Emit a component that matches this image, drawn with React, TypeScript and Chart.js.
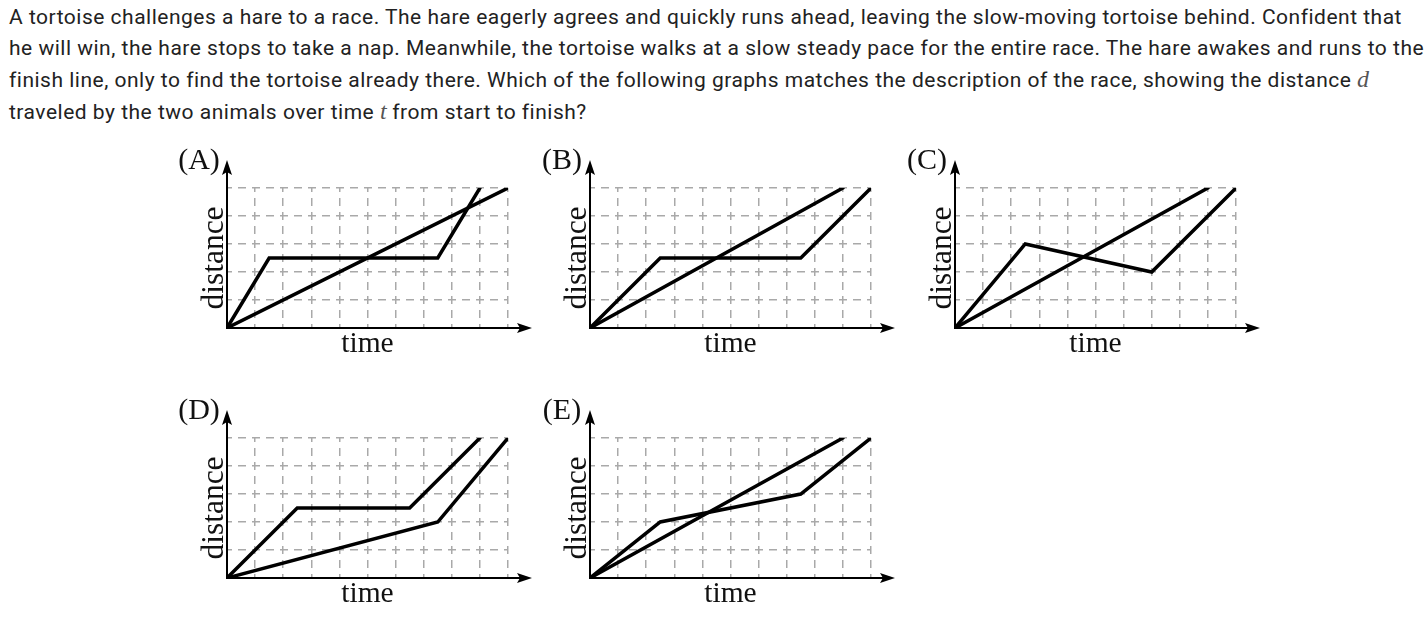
import React, { useEffect, useRef } from "react";
import { Chart, registerables } from "chart.js";

Chart.register(...registerables);

// ---------- text ----------
const questionLines = [
  "A tortoise challenges a hare to a race. The hare eagerly agrees and quickly runs ahead, leaving the slow-moving tortoise behind. Confident that",
  "he will win, the hare stops to take a nap. Meanwhile, the tortoise walks at a slow steady pace for the entire race. The hare awakes and runs to the",
  "finish line, only to find the tortoise already there. Which of the following graphs matches the description of the race, showing the distance ",
  "traveled by the two animals over time ",
];
const lineTails = ["", "", "", " from start to finish?"];
const mathVars = ["", "", "d", "t"];

// ---------- axes ----------
const xLabel = "time";
const yLabel = "distance";
const timeMax = 10;
const distMax = 5;

// ---------- data (time, distance) ----------
const panelLabels = ["(A)", "(B)", "(C)", "(D)", "(E)"];

const hareA_t = [0, 1.5, 7.5, 9];
const hareA_d = [0, 2.5, 2.5, 5];
const tortA_t = [0, 10];
const tortA_d = [0, 5];

const hareB_t = [0, 2.5, 7.5, 10];
const hareB_d = [0, 2.5, 2.5, 5];
const tortB_t = [0, 9];
const tortB_d = [0, 5];

const hareC_t = [0, 2.5, 7, 10];
const hareC_d = [0, 3, 2, 5];
const tortC_t = [0, 9];
const tortC_d = [0, 5];

const hareD_t = [0, 2.5, 6.5, 9];
const hareD_d = [0, 2.5, 2.5, 5];
const tortD_t = [0, 7.5, 10];
const tortD_d = [0, 2, 5];

const hareE_t = [0, 2.5, 7.5, 10];
const hareE_d = [0, 2, 3, 5];
const tortE_t = [0, 9];
const tortE_d = [0, 5];

const panelSeries = [
  [[hareA_t, hareA_d], [tortA_t, tortA_d]],
  [[hareB_t, hareB_d], [tortB_t, tortB_d]],
  [[hareC_t, hareC_d], [tortC_t, tortC_d]],
  [[hareD_t, hareD_d], [tortD_t, tortD_d]],
  [[hareE_t, hareE_d], [tortE_t, tortE_d]],
];

// ---------- layout (page coords of each panel's origin) ----------
const panelOrigins = [
  [227, 328],
  [590, 328],
  [955, 328],
  [227, 578],
  [590, 578],
];
const AREA_W = 281;
const AREA_H = 140;
const PAD_L = 62;
const PAD_T = 48;
const CANVAS_W = 370;
const CANVAS_H = 250;

const SERIF = "'Liberation Serif', 'Times New Roman', serif";

function toPoints(ts: number[], ds: number[]) {
  return ts.map((t, i) => ({ x: t, y: ds[i] }));
}

function makeDecor(label: string) {
  return {
    id: "decor",
    afterDraw(chart: any) {
      const { ctx, chartArea } = chart;
      const xs = chart.scales.x;
      const ys = chart.scales.y;
      const ox = xs.getPixelForValue(0);
      const oy = ys.getPixelForValue(0);
      const xTip = chartArea.right + 24;
      const yTip = chartArea.top - 28;
      ctx.save();
      ctx.strokeStyle = "#000";
      ctx.fillStyle = "#000";
      ctx.lineWidth = 2;
      // x axis extension
      ctx.beginPath();
      ctx.moveTo(chartArea.right - 1, oy);
      ctx.lineTo(xTip - 8, oy);
      ctx.stroke();
      ctx.beginPath();
      ctx.moveTo(xTip, oy);
      ctx.lineTo(xTip - 15, oy - 5);
      ctx.lineTo(xTip - 12, oy);
      ctx.lineTo(xTip - 15, oy + 5);
      ctx.closePath();
      ctx.fill();
      // y axis extension
      ctx.beginPath();
      ctx.moveTo(ox, chartArea.top + 1);
      ctx.lineTo(ox, yTip + 8);
      ctx.stroke();
      ctx.beginPath();
      ctx.moveTo(ox, yTip);
      ctx.lineTo(ox - 5, yTip + 15);
      ctx.lineTo(ox, yTip + 12);
      ctx.lineTo(ox + 5, yTip + 15);
      ctx.closePath();
      ctx.fill();

      ctx.fillStyle = "#111";
      ctx.textBaseline = "alphabetic";
      ctx.textAlign = "center";
      // panel label
      ctx.font = `30px ${SERIF}`;
      ctx.fillText(label, ox - 28, oy - 159);
      // x label
      ctx.font = `29.5px ${SERIF}`;
      ctx.fillText(xLabel, (chartArea.left + chartArea.right) / 2, oy + 24);
      // y label
      ctx.save();
      ctx.font = `31.5px ${SERIF}`;
      ctx.translate(ox - 4.5, (chartArea.top + chartArea.bottom) / 2);
      ctx.rotate(-Math.PI / 2);
      ctx.fillText(yLabel, 0, 0);
      ctx.restore();
      ctx.restore();
    },
  };
}

function Panel({ index }: { index: number }) {
  const ref = useRef<HTMLCanvasElement | null>(null);
  useEffect(() => {
    if (!ref.current) return;
    const series = panelSeries[index];
    const chart = new Chart(ref.current, {
      type: "line",
      data: {
        datasets: series.map(([ts, ds]) => ({
          data: toPoints(ts, ds),
          borderColor: "#000",
          borderWidth: 3.5,
          pointRadius: 0,
          tension: 0,
          fill: false,
          borderCapStyle: "round",
          borderJoinStyle: "miter",
        })),
      },
      options: {
        animation: false,
        responsive: false,
        devicePixelRatio: 1,
        layout: {
          padding: {
            left: PAD_L,
            top: PAD_T,
            right: CANVAS_W - PAD_L - AREA_W,
            bottom: CANVAS_H - PAD_T - AREA_H,
          },
        },
        plugins: {
          legend: { display: false },
          tooltip: { enabled: false },
          title: { display: false },
        },
        scales: {
          x: {
            type: "linear",
            min: 0,
            max: timeMax,
            ticks: { display: false, stepSize: 1 },
            grid: { color: "#a9a9a9", lineWidth: 1.5, drawTicks: false, tickLength: 0 },
            border: { display: true, color: "#000", width: 2, dash: [8, 6], dashOffset: 4 },
          },
          y: {
            type: "linear",
            min: 0,
            max: distMax,
            ticks: { display: false, stepSize: 1 },
            grid: { color: "#a9a9a9", lineWidth: 1.5, drawTicks: false, tickLength: 0 },
            border: { display: true, color: "#000", width: 2, dash: [8, 6], dashOffset: 4 },
          },
        },
      },
      plugins: [makeDecor(panelLabels[index])],
    } as any);
    return () => chart.destroy();
  }, [index]);
  const [ox, oy] = panelOrigins[index];
  return (
    <canvas
      ref={ref}
      width={CANVAS_W}
      height={CANVAS_H}
      style={{
        position: "absolute",
        left: ox - PAD_L,
        top: oy - AREA_H - PAD_T,
        width: CANVAS_W,
        height: CANVAS_H,
      }}
    />
  );
}

export default function App() {
  return (
    <div
      style={{
        position: "absolute",
        left: 0,
        top: 0,
        width: 1428,
        height: 618,
        background: "#fff",
        overflow: "hidden",
      }}
    >
      <div
        style={{
          position: "absolute",
          left: 9,
          top: 2,
          fontFamily: "Roboto, 'Noto Sans', sans-serif",
          fontSize: 21,
          letterSpacing: "0.5px",
          lineHeight: "31px",
          color: "#222",
        }}
      >
        {questionLines.map((ln, i) => (
          <div key={i} style={{ whiteSpace: "nowrap" }}>
            {ln}
            {mathVars[i] ? (
              <span style={{ fontFamily: SERIF, fontStyle: "italic", fontSize: 24, color: "#555", letterSpacing: 0 }}>
                {mathVars[i]}
              </span>
            ) : null}
            {lineTails[i]}
          </div>
        ))}
      </div>
      {panelLabels.map((_, i) => (
        <Panel key={i} index={i} />
      ))}
    </div>
  );
}
